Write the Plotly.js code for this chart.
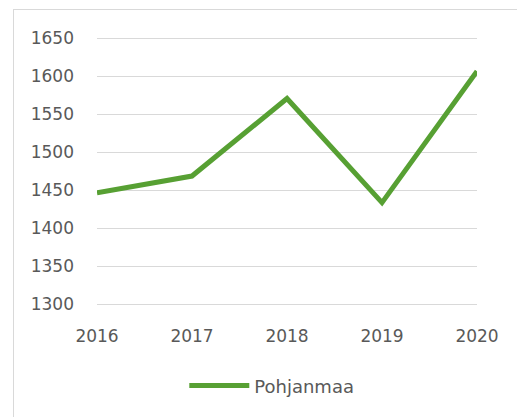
<!DOCTYPE html>
<html>
<head>
<meta charset="utf-8">
<script src="https://cdn.plot.ly/plotly-3.0.1.min.js"></script>
<style>
  html, body { margin: 0; padding: 0; background: #ffffff; overflow: hidden; }
  #frame { position: absolute; left: 13px; top: 9px; width: 700px; height: 600px; border: 1px solid #d9d9d9; box-sizing: border-box; }
  #chart { position: absolute; left: 0; top: 0; width: 517px; height: 417px; }
</style>
</head>
<body>
<div id="frame"></div>
<div id="chart"></div>
<script>
const years = ["2016", "2017", "2018", "2019", "2020"];
const pohjanmaa = [1447, 1469, 1571, 1434, 1607];
const seriesName = "Pohjanmaa";
const yTicks = [1300, 1350, 1400, 1450, 1500, 1550, 1600, 1650];

const fontFamily = "DejaVu Sans, sans-serif";
const textColor = "#595959";

Plotly.newPlot("chart", [{
  type: "scatter",
  mode: "lines",
  x: years,
  y: pohjanmaa,
  name: seriesName,
  line: { color: "#57a033", width: 5 },
  showlegend: true
}], {
  width: 517,
  height: 417,
  margin: { l: 97, r: 40, t: 37, b: 111, pad: 0 },
  paper_bgcolor: "rgba(0,0,0,0)",
  plot_bgcolor: "rgba(0,0,0,0)",
  font: { family: fontFamily, size: 17, color: textColor },
  xaxis: {
    type: "category",
    range: [0, 4],
    showgrid: false,
    zeroline: false,
    showline: false,
    ticks: "",
    ticklabelstandoff: 18,
    tickfont: { family: fontFamily, size: 17, color: textColor },
    fixedrange: true
  },
  yaxis: {
    range: [1298, 1652],
    tickvals: yTicks,
    ticktext: yTicks.map(String),
    showgrid: true,
    gridcolor: "#d9d9d9",
    gridwidth: 1,
    zeroline: false,
    showline: false,
    ticks: "",
    ticklabelstandoff: 22,
    tickfont: { family: fontFamily, size: 17, color: textColor },
    fixedrange: true
  },
  legend: {
    orientation: "h",
    x: 0.46,
    xanchor: "center",
    y: -0.297,
    yanchor: "middle",
    itemwidth: 60,
    font: { family: fontFamily, size: 18, color: textColor },
    bgcolor: "rgba(0,0,0,0)"
  },
  showlegend: true
}, { displayModeBar: false, staticPlot: true });
</script>
</body>
</html>
